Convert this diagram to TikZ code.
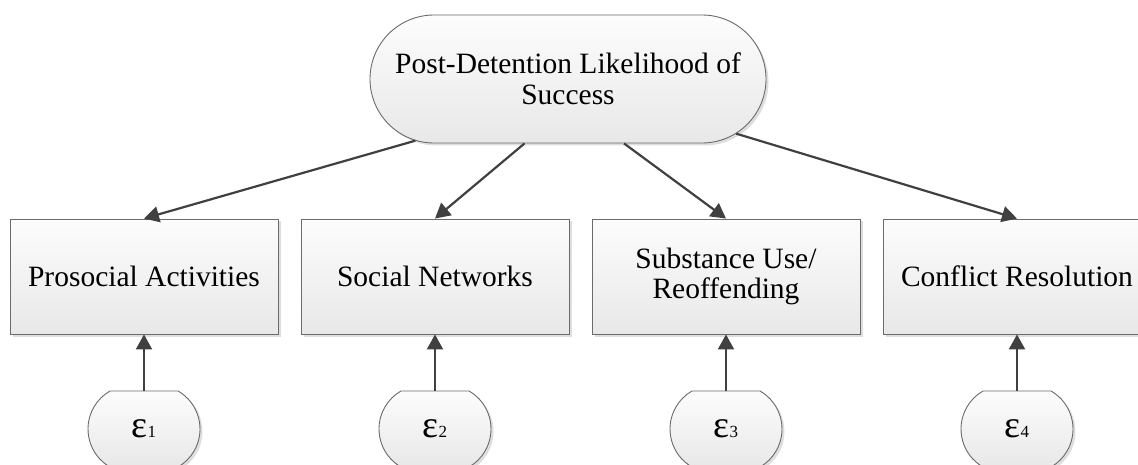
\documentclass[tikz,border=0pt]{standalone}
\usepackage{fontspec}
\setmainfont{Liberation Serif}
\usetikzlibrary{shapes.misc,shadows,arrows.meta}

\begin{document}
\begin{tikzpicture}[x=1pt,y=-1pt,
  every node/.style={font=\fontsize{29.5}{30.5}\selectfont, text=black},
  panel/.style={draw=black!58, line width=0.9pt,
    top color=white!99!black, bottom color=white!91!black,
    drop shadow={shadow xshift=2.5pt, shadow yshift=-2.5pt, fill=black, opacity=0.13}},
  factor/.style={panel, rectangle, minimum width=268pt, minimum height=115pt, align=center, inner sep=2pt},
  latent/.style={panel, rounded rectangle, rounded rectangle arc length=180,
    minimum width=400pt, minimum height=128pt, align=center, inner sep=2pt},
  errnode/.style={panel, rounded rectangle, rounded rectangle arc length=120,
    minimum width=112pt, minimum height=76pt, inner sep=0pt},
  link/.style={draw=black!75, line width=2.2pt, -{Triangle[length=15pt,width=16pt]}}
]
\useasboundingbox (0,0) rectangle (1138,465);
\clip (0,0) rectangle (1138,465);

% latent construct
\node[latent] (top) at (568,79) {Post-Detention Likelihood of\\Success};

% observed factors
\node[factor] (b1) at (144,276.5)  {Prosocial Activities};
\node[factor] (b2) at (435,276.5)  {Social Networks};
\node[factor] (b3) at (726,276.5)  {Substance Use/\\Reoffending};
\node[factor] (b4) at (1017,276.5) {Conflict Resolution};

% error terms
\newcommand{\errlabel}[1]{{\fontsize{38}{38}\selectfont ε}{\fontsize{17}{17}\selectfont #1}}
\node[errnode] (e1) at (144,429)  {\errlabel{1}};
\node[errnode] (e2) at (435,429)  {\errlabel{2}};
\node[errnode] (e3) at (726,429)  {\errlabel{3}};
\node[errnode] (e4) at (1017,429) {\errlabel{4}};

% loadings
\draw[link] (top.202) -- (b1.north);
\draw[link] (top.236) -- (b2.north);
\draw[link] (top.311) -- (b3.north);
\draw[link] (top.342) -- (b4.north);

% error paths
\draw[link] (e1.north) -- (b1.south);
\draw[link] (e2.north) -- (b2.south);
\draw[link] (e3.north) -- (b3.south);
\draw[link] (e4.north) -- (b4.south);
\end{tikzpicture}
\end{document}
